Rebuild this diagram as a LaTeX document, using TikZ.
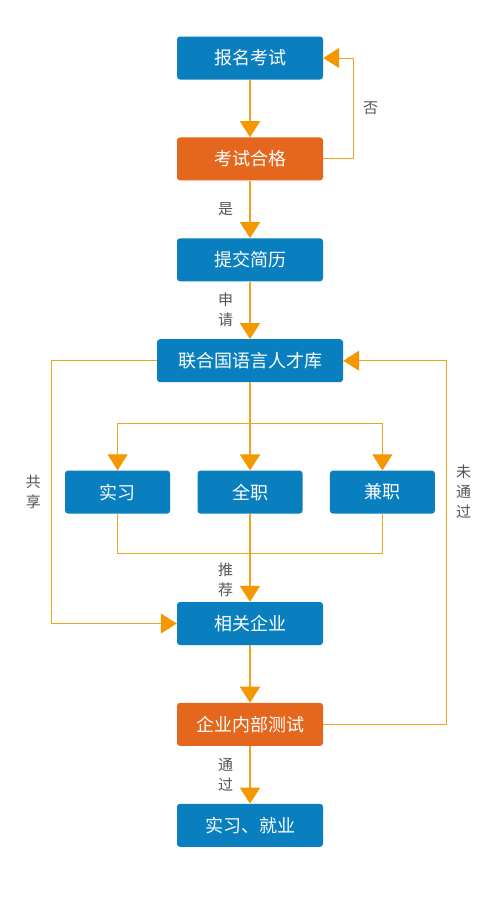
\documentclass[tikz,border=0pt]{standalone}
\usepackage{fontspec}
\setmainfont{Noto Sans CJK SC}
\usepackage{xcolor}
\usetikzlibrary{arrows.meta,positioning}
\definecolor{boxBlue}{HTML}{0A7FBF}
\definecolor{boxOrange}{HTML}{E5661D}
\definecolor{lineOrange}{HTML}{F0A41E}
\definecolor{tipOrange}{HTML}{F39800}
\definecolor{noteGray}{HTML}{555555}

\begin{document}
\begin{tikzpicture}[
    x=1pt,y=-1pt,
    >={Triangle[width=20pt,length=16pt,color=tipOrange]},
    node distance=57.5pt and 27pt,
    stepbox/.style={fill=boxBlue,text=white,rounded corners=3pt,inner sep=0pt,
      minimum width=146pt,minimum height=43pt,font=\fontsize{18}{21}\selectfont},
    checkbox/.style={stepbox,fill=boxOrange},
    jobbox/.style={stepbox,minimum width=105pt},
    flow/.style={->,draw=lineOrange,line width=2pt},
    loop/.style={->,draw=lineOrange,line width=1pt},
    thinline/.style={draw=lineOrange,line width=1pt},
    note/.style={text=noteGray,align=center,inner sep=0pt,
      font=\fontsize{15}{20}\selectfont}
  ]
    \useasboundingbox (0,0) rectangle (500,898);
    \node[stepbox] (signup) at (250,58) {报名考试};
    \node[checkbox,below=of signup] (pass) {考试合格};
    \node[stepbox,below=of pass] (resume) {提交简历};
    \node[stepbox,minimum width=186pt,below=of resume] (pool) {联合国语言人才库};
    \node[jobbox,below=88pt of pool] (fulltime) {全职};
    \node[jobbox,left=of fulltime] (intern) {实习};
    \node[jobbox,right=of fulltime] (parttime) {兼职};
    \node[stepbox,below=88pt of fulltime] (company) {相关企业};
    \node[checkbox,below=of company] (test) {企业内部测试};
    \node[stepbox,below=of test] (result) {实习、就业};
    \coordinate[below=41pt of pool.south] (split);
    \coordinate[below=40pt of fulltime.south] (merge);

    \draw[flow] (signup)--(pass);
    \draw[flow] (pass)--node[note,left=16pt] {是} (resume);
    \draw[flow] (resume)--node[note,left=16pt] {申\\请} (pool);
    \draw[flow] (pool)--(fulltime);
    \draw[loop] (split) -| (intern);
    \draw[loop] (split) -| (parttime);
    \draw[thinline] (intern) |- (merge) -| (parttime);
    \draw[flow] (fulltime)--node[note,left=16pt,pos=0.75] {推\\荐} (company);
    \draw[flow] (company)--(test);
    \draw[flow] (test)--node[note,left=16pt] {通\\过} (result);

    \draw[loop] (pass.east) -- ++(30,0) |- node[note,right=9.5pt,pos=0.25] {否} (signup.east);
    \draw[loop] (pool.west) -- ++(-105,0) |- node[note,left=10.5pt,pos=0.25] {共\\享} (company.west);
    \draw[loop] (test.east) -- ++(123,0) |- node[note,right=9.5pt,pos=0.32] {未\\通\\过} (pool.east);
  \end{tikzpicture}
\end{document}
